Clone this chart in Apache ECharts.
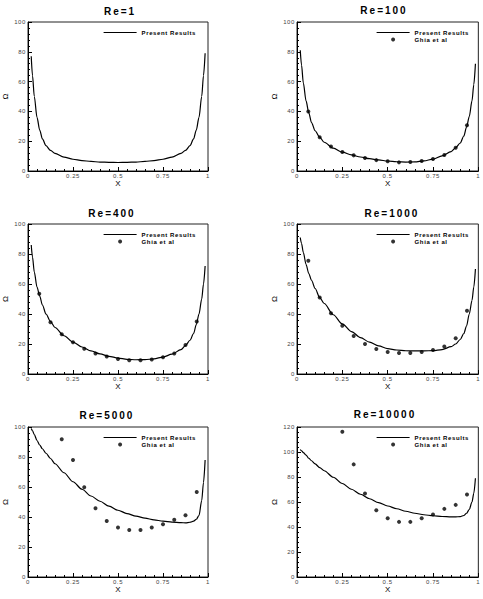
<!DOCTYPE html>
<html>
<head>
<meta charset="utf-8">
<script src="https://cdn.jsdelivr.net/npm/echarts@6/dist/echarts.min.js"></script>
<style>
  html, body { margin: 0; padding: 0; background: #fff; }
  #chart { width: 483px; height: 599px; }
</style>
</head>
<body>
<div id="chart"></div>
<script>
// Reynolds number of each panel
const reynolds = [1, 100, 400, 1000, 5000, 10000];
const yMax = [100, 100, 100, 100, 100, 120];

// stations of the present-results curves
const curveX = [0.018, 0.025, 0.035, 0.05, 0.065, 0.08, 0.1, 0.125, 0.15, 0.2, 0.25, 0.3,
  0.35, 0.4, 0.45, 0.5, 0.55, 0.6, 0.65, 0.7, 0.75, 0.8, 0.85, 0.875, 0.9, 0.92,
  0.935, 0.95, 0.965, 0.975, 0.984];
const present1 = [77, 64, 50, 36, 27.5, 21.5, 17, 13.8, 11.8, 9.3, 7.9, 7.0,
  6.4, 6.0, 5.8, 5.7, 5.8, 6.0, 6.4, 7.0, 7.9, 9.3, 11.8, 13.8, 17, 21.5,
  27.5, 36, 50, 64, 79];
const present100 = [81, 71, 59, 47, 39, 32.5, 27, 22.7, 19.3, 15.3, 12.7, 10.8,
  9.4, 8.3, 7.4, 6.7, 6.2, 6.0, 6.1, 6.8, 8.0, 10.1, 13.0, 15.6, 18.8, 23.5,
  29.5, 36.5, 47, 58, 72];
const present400 = [86, 78, 68, 58, 52, 46, 40, 35, 31, 25.5, 21.3, 18.0,
  15.4, 13.4, 11.8, 10.6, 9.8, 9.5, 9.6, 10.1, 11.3, 13.2, 16.3, 19, 22.5, 27,
  33, 40, 50, 60, 72];
const present1000 = [91, 87, 81, 73, 67, 62.5, 57, 51, 47, 39.5, 33.4, 28.3,
  24.3, 21.2, 18.8, 16.9, 16.0, 15.5, 15.4, 15.4, 15.6, 16.3, 18.2, 20, 23, 27,
  32, 40, 49, 58, 70];
const present5000 = [99, 97.5, 95, 91, 88, 85.5, 82.5, 79, 75.5, 69.5, 63.5, 58.5,
  54, 50.5, 47.3, 44.5, 42.3, 40.6, 39.2, 38.1, 37.2, 36.6, 36.2, 36.1, 36.5, 37.2,
  38.5, 41, 51, 63, 78];
const present10000 = [102, 101, 99.5, 97.5, 95, 93, 90.5, 87.5, 85, 79.8, 74.8, 70.2,
  66.2, 62.6, 59.5, 56.8, 54.6, 52.6, 51, 49.8, 49, 48.4, 48.1, 48.1, 48.3, 49.2,
  51, 54, 60, 67, 79];

// Ghia et al. vorticity along the lid
const ghiaX = [0.0625, 0.125, 0.1875, 0.25, 0.3125, 0.375, 0.4375, 0.5,
  0.5625, 0.625, 0.6875, 0.75, 0.8125, 0.875, 0.9375];
const ghia100 = [39.9, 22.7, 16.5, 12.7, 10.5, 8.7, 7.3, 6.5, 5.8, 6.0, 6.7, 8.0, 10.7, 15.6, 30.7];
const ghia400 = [53.5, 34.5, 26.5, 21.2, 16.9, 13.6, 11.6, 10.0, 9.1, 9.1, 9.6, 11.1, 13.6, 19.4, 35];
const ghia1000 = [75.5, 51, 40.5, 32.1, 25.4, 20.0, 16.7, 14.7, 14.0, 14.0, 14.7, 16.0, 18.3, 23.8, 42.1];
const ghia5000 = [null, null, 91.8, 78, 59.9, 45.9, 37.4, 33.0, 31.4, 31.4, 33.0, 35.2, 38.1, 41.2, 56.6];
const ghia10000 = [null, null, null, 116.2, 90.1, 66.8, 53.4, 47.0, 44.1, 44.1, 47.0, 50.0, 54.5, 57.7, 66.0];

const presentData = [present1, present100, present400, present1000, present5000, present10000];
const ghiaData = [null, ghia100, ghia400, ghia1000, ghia5000, ghia10000];

// panel boxes (pixels)
const panels = [
  { left: 24, top: 22, width: 184, height: 149, tx: 120, ty: 11 },
  { left: 297, top: 22, width: 183, height: 149, tx: 384, ty: 10 },
  { left: 24, top: 224, width: 184, height: 150, tx: 112, ty: 213 },
  { left: 297, top: 224, width: 183, height: 150, tx: 392, ty: 213 },
  { left: 24, top: 427, width: 184, height: 150, tx: 107, ty: 415 },
  { left: 297, top: 427, width: 183, height: 150, tx: 385, ty: 414 }
];

const FONT = '"Liberation Sans", Arial, sans-serif';
const chart = echarts.init(document.getElementById('chart'), null, { renderer: 'svg' });

const zip = (xs, ys) => xs.map((x, k) => [x, ys[k]]).filter(p => p[1] != null);

const grids = [], xAxes = [], yAxes = [], series = [], legends = [], titles = [];

panels.forEach((p, i) => {
  grids.push({
    left: p.left, top: p.top, width: p.width, height: p.height,
    show: true, borderColor: '#222', borderWidth: 1, backgroundColor: 'transparent'
  });

  const axisCommon = {
    gridIndex: i,
    type: 'value',
    nameLocation: 'middle',
    nameTextStyle: { fontSize: 8, color: '#000', fontFamily: FONT },
    axisLine: { lineStyle: { color: '#000', width: 1 } },
    axisTick: { inside: true, length: 4, lineStyle: { color: '#000' } },
    minorTick: { show: true, splitNumber: 5, length: 2, lineStyle: { color: '#000' } },
    axisLabel: { fontSize: 6, color: '#444', margin: 2, fontFamily: FONT },
    splitLine: { show: false }
  };
  xAxes.push(Object.assign({}, axisCommon, {
    min: 0, max: 1, interval: 0.25, name: 'X', nameGap: 8
  }));
  yAxes.push(Object.assign({}, axisCommon, {
    min: 0, max: yMax[i], interval: 20, name: 'Ω', nameGap: 19, nameRotate: 90
  }));

  series.push({
    name: 'Present Results',
    type: 'line',
    xAxisIndex: i, yAxisIndex: i,
    data: zip(curveX, presentData[i]),
    symbol: 'none',
    smooth: 0.3,
    smoothMonotone: 'x',
    lineStyle: { color: '#000', width: 1.2 },
    itemStyle: { color: '#000' }
  });
  if (ghiaData[i]) {
    series.push({
      name: 'Ghia et al',
      type: 'scatter',
      xAxisIndex: i, yAxisIndex: i,
      data: zip(ghiaX, ghiaData[i]),
      symbolSize: 4,
      itemStyle: { color: '#000' }
    });
  }

  // legend entry for the curve: plain line, no dot
  const curveLegend = {
    name: 'Present Results',
    itemStyle: { color: 'transparent', borderWidth: 0 },
    lineStyle: { color: '#000', width: 1.2 }
  };
  legends.push({
    left: p.left + 79,
    top: p.top + 7,
    orient: 'vertical',
    padding: 0,
    itemGap: 0,
    itemWidth: 33,
    itemHeight: 4,
    selectedMode: false,
    data: ghiaData[i] ? [curveLegend, 'Ghia et al'] : [curveLegend],
    textStyle: { fontSize: 6, lineHeight: 7, color: '#000', fontWeight: 'bold', fontFamily: FONT }
  });

  titles.push({
    type: 'text',
    x: p.tx, y: p.ty,
    style: {
      text: 'Re=' + reynolds[i],
      font: 'bold 10px ' + FONT,
      fill: '#000',
      textAlign: 'center',
      textVerticalAlign: 'middle'
    }
  });
});

chart.setOption({
  animation: false,
  backgroundColor: '#fff',
  grid: grids,
  xAxis: xAxes,
  yAxis: yAxes,
  legend: legends,
  graphic: titles,
  series: series
});

// Tecplot-style wide lettering
function spaceLetters() {
  document.querySelectorAll('#chart text').forEach(t => {
    const size = parseFloat(getComputedStyle(t).fontSize);
    if (size >= 9) t.style.letterSpacing = '2px';
    else if (size <= 6.5) t.style.letterSpacing = '0.6px';
  });
}
chart.on('finished', spaceLetters);
setTimeout(spaceLetters, 50);
</script>
</body>
</html>
